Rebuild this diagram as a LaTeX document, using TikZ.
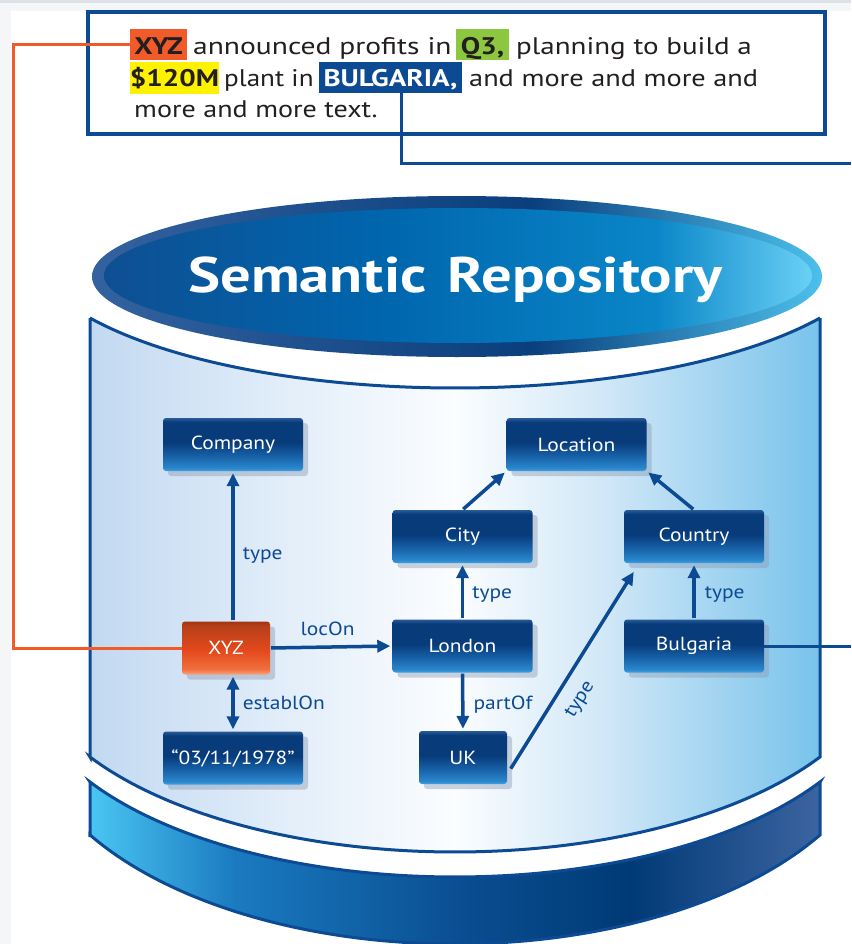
\documentclass[tikz,border=0pt]{standalone}
\usepackage{fontspec}
\setmainfont{PT Sans}[FakeStretch=1.13]
\newfontfamily\topfont{PT Sans}[FakeStretch=1.21]
\newfontfamily\topA{PT Sans}[FakeStretch=1.23]
\newfontfamily\topB{PT Sans}[FakeStretch=1.13]
\newfontfamily\topC{PT Sans}[FakeStretch=1.18]
\newfontfamily\topD{PT Sans}[FakeStretch=1.17]
\usetikzlibrary{arrows.meta,shadows}

\definecolor{dblue}{HTML}{0D4A94}
\definecolor{orng}{HTML}{F15A29}
\definecolor{qgreen}{HTML}{8DC63F}
\definecolor{yel}{HTML}{FFF200}
\definecolor{txt}{HTML}{231F20}
\definecolor{pagegray}{HTML}{F5F6F8}
\definecolor{topgray}{HTML}{DDE2E8}
\definecolor{shadowc}{HTML}{8E9DB5}
% node blue shading colours
\definecolor{nA}{HTML}{3DA2E2}
\definecolor{nB}{HTML}{2A86CC}
\definecolor{nC}{HTML}{165EA4}
\definecolor{nD}{HTML}{073B7A}
\definecolor{nE}{HTML}{2A5A98}
% orange node
\definecolor{oA}{HTML}{F8A27E}
\definecolor{oB}{HTML}{F0703C}
\definecolor{oC}{HTML}{E4481C}
\definecolor{oD}{HTML}{B8401A}
\definecolor{oE}{HTML}{A43412}
% body
\definecolor{bA}{HTML}{C2D9F1}
\definecolor{bB}{HTML}{E6F0FA}
\definecolor{bC}{HTML}{FBFDFF}
\definecolor{bD}{HTML}{D2E8F7}
\definecolor{bE}{HTML}{78C3EB}
% base
\definecolor{sA}{HTML}{4AC6F2}
\definecolor{sB}{HTML}{1A7AC0}
\definecolor{sC}{HTML}{0A4F92}
\definecolor{sD}{HTML}{003A76}
\definecolor{sE}{HTML}{3C64A0}
% top ring and top face
\definecolor{rA}{HTML}{33629F}
\definecolor{rB}{HTML}{0A3E7C}
\definecolor{rC}{HTML}{4CC0EC}
\definecolor{fA}{HTML}{0E4F92}
\definecolor{fB}{HTML}{0066AE}
\definecolor{fC}{HTML}{0A86C8}
\definecolor{fD}{HTML}{6AD0F5}

\pgfdeclareverticalshading{nodesh}{100bp}{color(0bp)=(nA); color(25bp)=(nA); color(28bp)=(nB); color(40bp)=(nC); color(52bp)=(nD); color(71bp)=(nD); color(75bp)=(nE); color(100bp)=(nE)}
\pgfdeclareverticalshading{orangesh}{100bp}{color(0bp)=(oA); color(25bp)=(oA); color(30bp)=(oB); color(48bp)=(oC); color(70bp)=(oD); color(75bp)=(oE); color(100bp)=(oE)}
\pgfdeclarehorizontalshading{bodysh}{100bp}{color(0bp)=(bA); color(25bp)=(bA); color(40bp)=(bB); color(50bp)=(bC); color(60bp)=(bD); color(75bp)=(bE); color(100bp)=(bE)}
\pgfdeclarehorizontalshading{basesh}{100bp}{color(0bp)=(sA); color(25bp)=(sA); color(35bp)=(sB); color(50bp)=(sC); color(62bp)=(sD); color(75bp)=(sE); color(100bp)=(sE)}
\pgfdeclarehorizontalshading{ringsh}{100bp}{color(0bp)=(rA); color(25bp)=(rA); color(55bp)=(rB); color(75bp)=(rC); color(100bp)=(rC)}
\pgfdeclarehorizontalshading{facesh}{100bp}{color(0bp)=(fA); color(25bp)=(fA); color(45bp)=(fB); color(64bp)=(fC); color(75bp)=(fD); color(100bp)=(fD)}

\tikzset{
  rnode/.style={rectangle, rounded corners=3pt, minimum width=140pt, minimum height=53pt,
    inner sep=0pt, shade, shading=nodesh, text=white, font=\fontsize{19}{22}\selectfont,
    drop shadow={shadow xshift=5pt, shadow yshift=-5pt, fill=shadowc, opacity=0.45}},
  snode/.style={rnode, minimum width=88pt},
  onode/.style={rnode, minimum width=88pt, shading=orangesh},
  arr/.style={draw=dblue, line width=3.5pt, -{Triangle[length=13pt,width=12pt]}, shorten >=2pt, shorten <=1pt},
  darr/.style={draw=dblue, line width=3.5pt, {Triangle[length=13pt,width=12pt]}-{Triangle[length=13pt,width=12pt]}, shorten >=2pt, shorten <=2pt},
  lbl/.style={text=dblue, font=\fontsize{19}{22}\selectfont, inner sep=0pt},
  tt/.style={text=txt, inner sep=0pt, anchor=base west},
  hl/.style={inner sep=0pt, anchor=base, font=\topfont\fontsize{24}{28}\selectfont\bfseries},
  conn/.style={line width=3pt},
}

\begin{document}
\begin{tikzpicture}[x=1pt,y=-1pt]
\useasboundingbox (0,0) rectangle (851,944);
% page
\fill[pagegray] (0,0) rectangle (851,944);
\fill[topgray] (0,0) rectangle (851,3);
\fill[white] (11,11) rectangle (851,944);

% ---- text box ----
\draw[dblue, line width=4pt] (88,12) rectangle (825,134);
\node[hl, fill=orng, minimum width=57pt, text height=26pt, text depth=5pt, text=txt] (hxyz) at (158.5,55) {XYZ};
\node[tt, font=\topA\fontsize{24}{28}\selectfont] (t1b) at (193,55) {announced profits in};
\node[hl, fill=qgreen, minimum width=53pt, text height=26pt, text depth=5pt, text=txt] (hq3) at (482.5,55) {Q3,};
\node[tt, font=\topfont\fontsize{24}{28}\selectfont] (t1d) at (516,55) {planning to build a};
\node[hl, fill=yel, minimum width=89pt, text height=25pt, text depth=7pt, text=txt] (h120) at (174.5,87) {\$120M};
\node[tt, font=\topB\fontsize{24}{28}\selectfont] (t2b) at (224,87) {plant in};
\node[hl, fill=dblue, minimum width=143pt, text height=25pt, text depth=6pt, text=white] (hbul) at (390.5,87) {BULGARIA,};
\node[tt, font=\topC\fontsize{24}{28}\selectfont] (t2d) at (469,87) {and more and more and};
\node[tt, font=\topD\fontsize{24}{28}\selectfont] (t3a) at (134,118) {more and more text.};

% ---- base disk ----
\shadedraw[shading=basesh, draw=dblue, line width=3pt]
  (90,782) -- (90,837)
  -- plot[domain=148.1:31.9, samples=90] ({455+430*cos(\x)},{712.7+231.3*sin(\x)})
  -- (820,782)
  -- plot[domain=31.9:148.1, samples=90] ({455+430*cos(\x)},{675.4+201.6*sin(\x)})
  -- cycle;

% ---- body ----
\shadedraw[shading=bodysh, draw=dblue, line width=3pt]
  (90,318) -- (90,757)
  -- plot[domain=148.1:31.9, samples=90] ({455+430*cos(\x)},{650.4+201.6*sin(\x)})
  -- (820,318)
  -- plot[domain=31.9:148.1, samples=90] ({455+430*cos(\x)},{239.5+148.5*sin(\x)})
  -- cycle;

% ---- top face ----
\shade[shading=ringsh] (457,276.5) ellipse[x radius=365, y radius=80.5];
\shade[shading=facesh] (458,275.5) ellipse[x radius=354, y radius=67.5];
\node[text=white, font=\topfont\fontsize{50}{60}\selectfont\bfseries] (title) at (455.5,280) {Semantic\hspace{6pt} Repository};

% ---- graph nodes ----
\node[rnode] (company) at (233,444.5) {Company};
\node[rnode] (location) at (576.5,444.5) {Location};
\node[rnode] (city) at (462.5,536.5) {City};
\node[rnode] (country) at (694,536.5) {Country};
\node[onode] (xyz) at (226,648) {XYZ};
\node[rnode] (london) at (462.5,646) {London};
\node[rnode] (bulgaria) at (694,646) {Bulgaria};
\node[rnode] (date) at (233,758) {``03/11/1978''};
\node[snode] (uk) at (463,757.5) {UK};

% ---- connectors ----
\draw[arr] (company.south |- xyz.north) -- (company.south)
  node[lbl, pos=0.44, anchor=west, xshift=8pt] {type};
\draw[darr] (date.north |- xyz.south) -- (date.north)
  node[lbl, pos=0.5, anchor=west, xshift=8pt] {establOn};
\draw[arr] (xyz.east) -- (london.west)
  node[lbl, pos=0.47, anchor=base, yshift=12pt] {locOn};
\draw[arr] (london.north) -- (city.south)
  node[lbl, pos=0.45, anchor=west, xshift=8pt] {type};
\draw[arr] (london.south) -- (uk.north)
  node[lbl, pos=0.55, anchor=west, xshift=9pt] {partOf};
\draw[arr] (city.north) -- (location.south west);
\draw[arr] (country.north) -- (location.south east);
\draw[arr] (bulgaria.north) -- (country.south)
  node[lbl, pos=0.45, anchor=west, xshift=9pt] {type};
\draw[arr] ([xshift=3pt,yshift=-12pt]uk.east) -- ([xshift=11pt,yshift=-7pt]country.south west)
  node[lbl, sloped, pos=0.41, below=13pt] {type};

% ---- links to text ----
\coordinate (obend) at (13,44.5);
\draw[orng, conn] (hxyz.west) -- (obend) |- (xyz.west);
\coordinate (bbend) at (401,164);
\coordinate (bend2) at (851,164);
\draw[dblue, conn] (bbend |- hbul.south) -- (bbend) -- (bend2);
\coordinate (bulr) at (851,646);
\draw[dblue, conn] (bulgaria.east) -- (bulr);
\end{tikzpicture}
\end{document}
